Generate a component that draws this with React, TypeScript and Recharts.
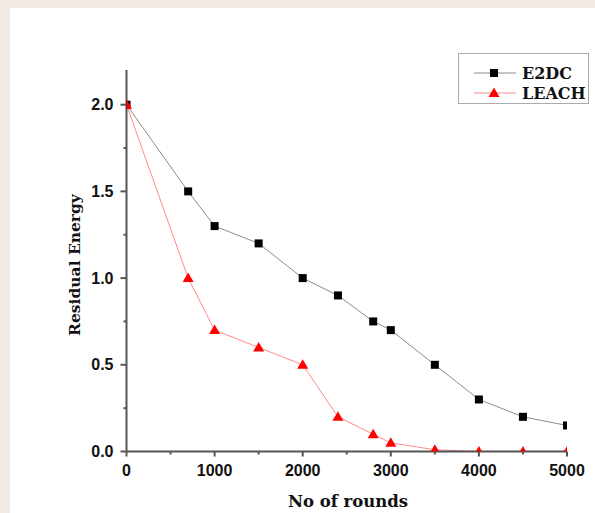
import React from "react";
import { LineChart, Line, XAxis, YAxis } from "recharts";

const rounds = [0, 700, 1000, 1500, 2000, 2400, 2800, 3000, 3500, 4000, 4500, 5000];
const e2dc = [2.0, 1.5, 1.3, 1.2, 1.0, 0.9, 0.75, 0.7, 0.5, 0.3, 0.2, 0.15];
const leach = [2.0, 1.0, 0.7, 0.6, 0.5, 0.2, 0.1, 0.05, 0.01, 0, 0, 0];

const xTicks = [0, 500, 1000, 1500, 2000, 2500, 3000, 3500, 4000, 4500, 5000];
const xLabels = [0, 1000, 2000, 3000, 4000, 5000];
const yTicks = [0, 0.25, 0.5, 0.75, 1.0, 1.25, 1.5, 1.75, 2.0];
const yLabels = [0, 0.5, 1.0, 1.5, 2.0];

const seriesNames = ["E2DC", "LEACH"];

const data = rounds.map((r, i) => ({ r, e2dc: e2dc[i], leach: leach[i] }));

const AXIS = "#555";
const TICK_FONT = "'Liberation Sans', Arial, sans-serif";
const SERIF = "'DejaVu Serif', 'Liberation Serif', serif";

const XTick = (props: any) => {
  const { x, y, payload } = props;
  const v = payload.value;
  const major = xLabels.includes(v);
  return (
    <g>
      <line x1={x} x2={x} y1={y} y2={y + (major ? 5 : 3)} stroke={AXIS} strokeWidth={2} />
      {major && (
        <text x={x} y={y + 24} textAnchor="middle" fontFamily={TICK_FONT} fontWeight="bold" fontSize={16} fill="#111">
          {v}
        </text>
      )}
    </g>
  );
};

const YTick = (props: any) => {
  const { x, y, payload } = props;
  const v = payload.value;
  const major = yLabels.some((l) => Math.abs(l - v) < 1e-9);
  return (
    <g>
      <line x1={x} x2={x - (major ? 6 : 3)} y1={y} y2={y} stroke={AXIS} strokeWidth={2} />
      {major && (
        <text x={x - 13} y={y + 5.5} textAnchor="end" fontFamily={TICK_FONT} fontWeight="bold" fontSize={16} fill="#111">
          {v.toFixed(1)}
        </text>
      )}
    </g>
  );
};

const SquareDot = (props: any) => {
  const { cx, cy, index } = props;
  if (cx == null || cy == null) return <g key={`s${index}`} />;
  return <rect key={`s${index}`} x={cx - 4} y={cy - 4} width={8} height={8} fill="#000" />;
};

const TriDot = (props: any) => {
  const { cx, cy, index } = props;
  if (cx == null || cy == null) return <g key={`t${index}`} />;
  return (
    <polygon
      key={`t${index}`}
      points={`${cx},${cy - 5.5} ${cx - 5.5},${cy + 4} ${cx + 5.5},${cy + 4}`}
      fill="#ff0000"
    />
  );
};

export default function App() {
  return (
    <div style={{ position: "absolute", left: 0, top: 0, width: 595, height: 513, background: "#f2eae5", overflow: "hidden" }}>
      <div style={{ position: "absolute", left: 10, top: 8, right: 0, bottom: 0, background: "#ffffff" }} />
      <div style={{ position: "absolute", left: 0, top: 0 }}>
        <LineChart width={595} height={513} data={data} margin={{ top: 70, right: 28, bottom: 31.5, left: 66.5 }}>
          <XAxis
            dataKey="r"
            type="number"
            domain={[0, 5000]}
            ticks={xTicks}
            interval={0}
            allowDataOverflow
            height={30}
            stroke={AXIS}
            strokeWidth={2}
            tickLine={false}
            tickSize={0}
            tickMargin={0}
            tick={<XTick />}
          />
          <YAxis
            type="number"
            domain={[0, 2.2]}
            ticks={yTicks}
            interval={0}
            allowDataOverflow
            width={60}
            stroke={AXIS}
            strokeWidth={2}
            tickLine={false}
            tickSize={0}
            tickMargin={0}
            tick={<YTick />}
          />
          <Line
            dataKey="e2dc"
            name={seriesNames[0]}
            stroke="#8c8c8c"
            strokeWidth={1}
            dot={SquareDot}
            activeDot={false}
            isAnimationActive={false}
          />
          <Line
            dataKey="leach"
            name={seriesNames[1]}
            stroke="#ff8a8a"
            strokeWidth={1}
            dot={TriDot}
            activeDot={false}
            isAnimationActive={false}
          />
        </LineChart>
      </div>
      <div
        style={{
          position: "absolute",
          left: 458,
          top: 53,
          width: 131,
          height: 51,
          border: "1px solid #aaa",
          background: "#fff",
          boxSizing: "border-box",
        }}
      >
        <svg width={131} height={51} style={{ position: "absolute", left: 0, top: 0 }}>
          <line x1={15} x2={57} y1={19} y2={19} stroke="#8c8c8c" strokeWidth={1} />
          <rect x={31} y={15} width={8} height={8} fill="#000" />
          <line x1={15} x2={57} y1={39} y2={39} stroke="#ff8a8a" strokeWidth={1} />
          <polygon points="35,33.5 29.5,43 40.5,43" fill="#ff0000" />
          <text x={63} y={25} fontFamily={SERIF} fontWeight="bold" fontSize={16} fill="#111">
            {seriesNames[0]}
          </text>
          <text x={63} y={45} fontFamily={SERIF} fontWeight="bold" fontSize={16} fill="#111">
            {seriesNames[1]}
          </text>
        </svg>
      </div>
      <div
        style={{
          position: "absolute",
          left: 248,
          top: 492,
          width: 200,
          textAlign: "center",
          fontFamily: SERIF,
          fontWeight: "bold",
          fontSize: 16.5,
          color: "#111",
          lineHeight: "20px",
        }}
      >
        No of rounds
      </div>
      <div
        style={{
          position: "absolute",
          left: 75 - 100,
          top: 265 - 10,
          width: 200,
          height: 20,
          textAlign: "center",
          fontFamily: SERIF,
          fontWeight: "bold",
          fontSize: 15.5,
          color: "#111",
          lineHeight: "20px",
          transform: "rotate(-90deg)",
        }}
      >
        Residual Energy
      </div>
    </div>
  );
}
